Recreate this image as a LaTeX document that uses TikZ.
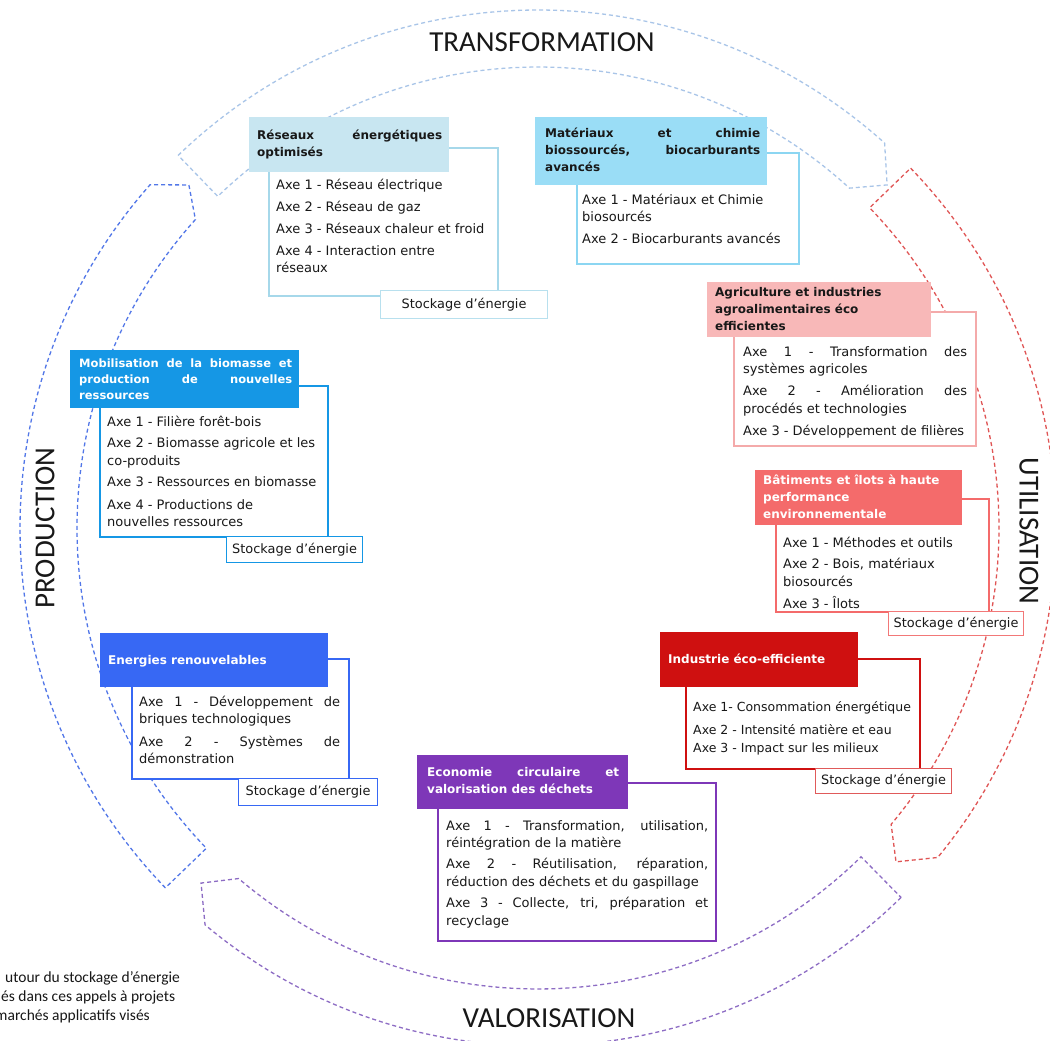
\documentclass[tikz,border=0pt]{standalone}
\usepackage{fontspec}
\setmainfont{DejaVu Sans}
\newfontfamily\calibfont{Carlito}
\usetikzlibrary{calc}

\definecolor{txt}{HTML}{181818}
\definecolor{reshd}{HTML}{C8E6F1}
\definecolor{resbd}{HTML}{A6D8EA}
\definecolor{resbdl}{HTML}{B8E0EE}
\definecolor{mathd}{HTML}{9ADDF6}
\definecolor{matbd}{HTML}{8CD6F2}
\definecolor{agrhd}{HTML}{F8B8B8}
\definecolor{agrbd}{HTML}{F4AAAA}
\definecolor{mobhd}{HTML}{1597E5}
\definecolor{bathd}{HTML}{F46B6B}
\definecolor{batbdl}{HTML}{F27878}
\definecolor{enehd}{HTML}{3768F4}
\definecolor{indhd}{HTML}{CF1010}
\definecolor{indbdl}{HTML}{E05A5A}
\definecolor{ecohd}{HTML}{7E37B8}
\definecolor{arrtop}{HTML}{A9C5E8}
\definecolor{arrred}{HTML}{E05555}
\definecolor{arrpur}{HTML}{8D6CC4}
\definecolor{arrblu}{HTML}{5277E8}

\newcommand\hdrfont{\fontsize{12}{17}\selectfont\bfseries}
\newcommand\hdrsmall{\fontsize{11.5}{16}\selectfont\bfseries}
\newcommand\itmfont{\fontsize{13}{17.5}\selectfont}
\newcommand\itmsmall{\fontsize{12.5}{17.5}\selectfont}
\newcommand\stkfont{\fontsize{12.9}{15}\selectfont}
\newcommand\ttlfont{\calibfont\fontsize{29}{34}\selectfont}
\newcommand\notefont{\calibfont\fontsize{15.5}{20}\selectfont}
\newcommand\jst[2]{\makebox[#1][s]{#2}}

\tikzset{
  arr/.style={dash pattern=on 4pt off 3pt, line width=1.3pt},
  cbox/.style={draw, fill=white, line width=1.8pt, anchor=north west, inner sep=0pt},
  hbox/.style={anchor=north west, inner sep=0pt},
  htxt/.style={anchor=west, inner sep=0pt, align=left, font=\hdrfont},
  itxt/.style={anchor=north west, inner sep=0pt, align=left, font=\itmfont, text=txt},
  sbox/.style={draw, fill=white, line width=1.2pt, anchor=north west, inner sep=0pt, font=\stkfont, text=txt},
  ttl/.style={font=\ttlfont, inner sep=0pt, text=txt},
  note/.style={font=\notefont, inner sep=0pt, anchor=west, text=txt}
}

\begin{document}
\begin{tikzpicture}[x=1pt,y=-1pt]
\fill[white] (0,0) rectangle (1050,1041);
\useasboundingbox (0,0) rectangle (1050,1041);

% ---- circular dashed arrows ----
\begin{scope}[shift={(538,528)}]
  \draw[arr, draw=arrtop] (226:518) arc[start angle=226, end angle=312, radius=518]
     -- (315.5:489.5) -- (312.5:461) arc[start angle=312.5, end angle=226, radius=461] -- cycle;
  \draw[arr, draw=arrred] (316:518) arc[start angle=316, end angle=399.5, radius=518]
     -- (403:489.5) -- (400:461) arc[start angle=400, end angle=316, radius=461] -- cycle;
  \draw[arr, draw=arrpur] (45.5:518) arc[start angle=45.5, end angle=130, radius=518]
     -- (133.5:489.5) -- (130.5:461) arc[start angle=130.5, end angle=45.5, radius=461] -- cycle;
  \draw[arr, draw=arrblu] (136:518) arc[start angle=136, end angle=221.5, radius=518]
     -- (224.5:489.5) -- (222:461) arc[start angle=222, end angle=136, radius=461] -- cycle;
\end{scope}

% ---- titles ----
\node[ttl] (tT) at (542,42) {TRANSFORMATION};
\node[ttl, rotate=90] (tP) at (45,528) {PRODUCTION};
\node[ttl, rotate=-90] (tU) at (1029,531) {UTILISATION};
\node[ttl] (tV) at (549,1018) {VALORISATION};

% ---- Réseaux énergétiques optimisés ----
\node[cbox, draw=resbd, minimum width=229pt, minimum height=148pt] (resC) at (268,147) {};
\node[hbox, fill=reshd, minimum width=200pt, minimum height=55pt] (resH) at (249,117) {};
\node[htxt, text=txt] (resT) at (257,145) {\strut\jst{185pt}{Réseaux énergétiques}\\optimisés\strut};
\node[itxt] (resI) at (276,176.75) {\strut Axe 1 - Réseau électrique\\[4.5pt]Axe 2 - Réseau de gaz\\[4.5pt]Axe 3 - Réseaux chaleur et froid\\[4.5pt]Axe 4 - Interaction entre\\réseaux};
\node[sbox, draw=resbdl, minimum width=167pt, minimum height=28pt] (resS) at (380,290) {Stockage d’énergie};

% ---- Matériaux et chimie ----
\node[cbox, draw=matbd, minimum width=222pt, minimum height=111pt] (matC) at (576,152) {};
\node[hbox, fill=mathd, minimum width=232pt, minimum height=68pt] (matH) at (535,117) {};
\node[htxt, text=txt] (matT) at (545,151) {\strut\jst{215pt}{Matériaux et chimie}\\\jst{215pt}{biossourcés, biocarburants}\\avancés\strut};
\node[itxt] (matI) at (582,191.75) {\strut Axe 1 - Matériaux et Chimie\\biosourcés\\[4pt]Axe 2 - Biocarburants avancés};

% ---- Agriculture ----
\node[cbox, draw=agrbd, minimum width=242pt, minimum height=134pt] (agrC) at (733,311) {};
\node[hbox, fill=agrhd, minimum width=224pt, minimum height=55pt] (agrH) at (707,282) {};
\node[htxt, text=txt] (agrT) at (715,310) {\strut Agriculture et industries\\agroalimentaires éco\\efficientes\strut};
\node[itxt] (agrI) at (743,343.75) {\strut\jst{224pt}{Axe 1 - Transformation des}\\systèmes agricoles\\[4.5pt]\jst{224pt}{Axe 2 - Amélioration des}\\procédés et technologies\\[4.5pt]Axe 3 - Développement de filières};

% ---- Mobilisation de la biomasse ----
\node[cbox, draw=mobhd, minimum width=228pt, minimum height=151pt] (mobC) at (99,385) {};
\node[hbox, fill=mobhd, minimum width=229pt, minimum height=58pt] (mobH) at (70,350) {};
\node[htxt, font=\hdrsmall, text=white] (mobT) at (79,380) {\strut\jst{213pt}{Mobilisation de la biomasse et}\\\jst{213pt}{production de nouvelles}\\ressources\strut};
\node[itxt] (mobI) at (107,413.75) {\strut Axe 1 - Filière forêt-bois\\[4pt]Axe 2 - Biomasse agricole et les\\co-produits\\[4pt]Axe 3 - Ressources en biomasse\\[5pt]Axe 4 - Productions de\\nouvelles ressources};
\node[sbox, draw=mobhd, minimum width=136pt, minimum height=26pt] (mobS) at (226,536) {Stockage d’énergie};

% ---- Bâtiments ----
\node[cbox, draw=bathd, minimum width=213pt, minimum height=113pt] (batC) at (775,498) {};
\node[hbox, fill=bathd, minimum width=207pt, minimum height=55pt] (batH) at (755,470) {};
\node[htxt, text=white] (batT) at (763,498) {\strut Bâtiments et îlots à haute\\performance\\environnementale\strut};
\node[itxt] (batI) at (783,534.75) {\strut Axe 1 - Méthodes et outils\\[4pt]Axe 2 - Bois, matériaux\\biosourcés\\[4.5pt]Axe 3 - Îlots};
\node[sbox, draw=batbdl, minimum width=135pt, minimum height=24pt] (batS) at (888,611) {Stockage d’énergie};

% ---- Energies renouvelables ----
\node[cbox, draw=enehd, minimum width=217pt, minimum height=120pt] (eneC) at (131,658) {};
\node[hbox, fill=enehd, minimum width=228pt, minimum height=54pt] (eneH) at (100,633) {};
\node[htxt, text=white] (eneT) at (108,661) {\strut Energies renouvelables};
\node[itxt] (eneI) at (139,693.75) {\strut\jst{201pt}{Axe 1 - Développement de}\\briques technologiques\\[5pt]\jst{201pt}{Axe 2 - Systèmes de}\\démonstration};
\node[sbox, draw=enehd, minimum width=139pt, minimum height=27pt] (eneS) at (238,778) {Stockage d’énergie};

% ---- Industrie éco-efficiente ----
\node[cbox, draw=indhd, minimum width=234pt, minimum height=110pt] (indC) at (685,658) {};
\node[hbox, fill=indhd, minimum width=198pt, minimum height=55pt] (indH) at (660,632) {};
\node[htxt, text=white] (indT) at (668,660) {\strut Industrie éco-efficiente};
\node[itxt, font=\itmsmall] (indI) at (693,698.75) {\strut Axe 1- Consommation énergétique\\[6pt]Axe 2 - Intensité matière et eau\\Axe 3 - Impact sur les milieux};
\node[sbox, draw=indbdl, minimum width=136pt, minimum height=25pt] (indS) at (815,768) {Stockage d’énergie};

% ---- Economie circulaire ----
\node[cbox, draw=ecohd, minimum width=278pt, minimum height=158pt] (ecoC) at (437,782) {};
\node[hbox, fill=ecohd, minimum width=211pt, minimum height=54pt] (ecoH) at (417,755) {};
\node[htxt, text=white] (ecoT) at (427,782) {\strut\jst{192pt}{Economie circulaire et}\\valorisation des déchets\strut};
\node[itxt] (ecoI) at (446,817.75) {\strut\jst{262pt}{Axe 1 - Transformation, utilisation,}\\réintégration de la matière\\[3.5pt]\jst{262pt}{Axe 2 - Réutilisation, réparation,}\\réduction des déchets et du gaspillage\\[4pt]\jst{262pt}{Axe 3 - Collecte, tri, préparation et}\\recyclage};

% ---- note bottom left (cut by the page edge) ----
\node[note] (n1) at (5,978) {utour du stockage d’énergie};
\node[note] (n2) at (1,997) {és dans ces appels à projets};
\node[note] (n3) at (-5,1016) {marchés applicatifs visés};
\end{tikzpicture}
\end{document}
